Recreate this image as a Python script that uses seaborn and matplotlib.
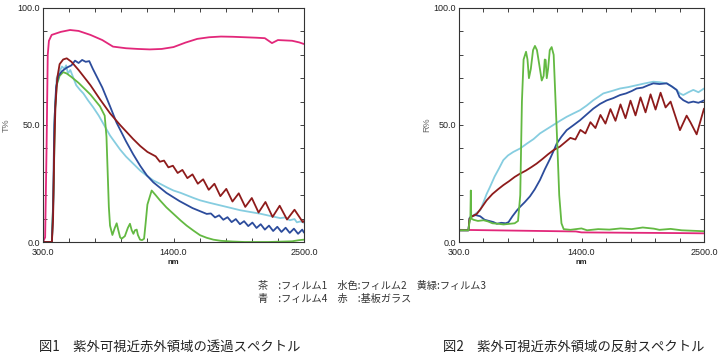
import numpy as np
import matplotlib
matplotlib.use("Agg")
import matplotlib.pyplot as plt
import seaborn as sns
from matplotlib.ticker import MultipleLocator, FixedLocator

# ---- Fig.1 transmission (T%) ----
t_glass_nm = [300, 318, 330, 340, 350, 373, 450, 528, 600, 700, 800, 890, 1000, 1100, 1200, 1300,
              1400, 1500, 1600, 1700, 1800, 1900, 2000, 2100, 2170, 2230, 2280, 2400, 2460, 2500]
t_glass = [0, 2, 40, 80, 86, 88.5, 89.8, 90.6, 90.2, 88.5, 86.3, 83.5, 82.8, 82.5, 82.3, 82.5,
           83.3, 85.2, 86.8, 87.5, 87.8, 87.7, 87.5, 87.3, 87.1, 85.0, 86.3, 86.0, 85.3, 84.6]

t_film1_nm = [300, 375, 385, 395, 405, 420, 440, 470, 500, 540, 600, 700, 780, 865, 950, 1060, 1120,
              1180, 1250, 1285, 1320, 1357, 1395, 1435, 1475, 1517, 1560, 1605, 1650, 1697, 1745,
              1795, 1845, 1897, 1950, 2005, 2060, 2117, 2175, 2235, 2295, 2357, 2420, 2490, 2500]
t_film1 = [0, 0, 10, 40, 58, 70, 76, 78, 78.5, 77, 73.5, 67, 61, 55, 50, 44, 41,
           38.5, 36.6, 34.3, 34.8, 31.9, 32.6, 29.5, 30.8, 27.3, 28.9, 24.9, 26.8, 22.3, 24.9,
           19.6, 22.7, 17.3, 20.8, 15.0, 18.8, 12.6, 17.1, 10.7, 15.5, 9.6, 13.8, 8.5, 9.0]

t_film2_nm = [300, 375, 390, 400, 415, 440, 460, 480, 495, 510, 530, 553, 580, 612, 640, 680, 724,
              770, 809, 865, 950, 1000, 1060, 1120, 1175, 1230, 1290, 1350, 1400, 1460, 1510, 1570,
              1625, 1700, 1790, 1880, 1960, 2050, 2130, 2210, 2300, 2340, 2380, 2420, 2440, 2470, 2500]
t_film2 = [0, 0, 20, 55, 70, 73, 75, 74, 75.5, 72, 73.5, 70.5, 67, 65, 63.5, 60.5, 57.5,
           54, 50.5, 45.5, 39.5, 36.5, 33.5, 30.5, 28.3, 26.3, 24.8, 23.2, 22, 21, 20, 18.8,
           17.8, 16.8, 15.7, 14.6, 13.6, 12.8, 12.1, 11.2, 10.2, 10.5, 9.3, 9.8, 8.4, 8.8, 8.2]

t_film3_nm = [300, 375, 390, 400, 415, 440, 470, 500, 540, 600, 640, 700, 780, 820, 835, 845, 855,
              865, 885, 905, 921, 935, 950, 963, 990, 1015, 1033, 1048, 1062, 1075, 1090, 1100,
              1118, 1135, 1152, 1165, 1180, 1216, 1250, 1286, 1340, 1400, 1460, 1511, 1570, 1624,
              1680, 1736, 1800, 1900, 2000, 2200, 2400, 2460, 2500]
t_film3 = [0, 0, 25, 55, 67, 71, 72.6, 72, 70.5, 68, 66, 63, 58, 54, 45, 30, 15,
           7, 3, 6, 8, 5, 2, 1.4, 2.5, 6, 7.8, 5, 3.5, 5, 5.3, 3,
           1, 0.8, 1.4, 8, 16, 22, 20, 17.8, 14.8, 12, 9.2, 7, 4.8, 2.9,
           1.8, 1, 0.5, 0.2, 0, 0, 0.3, 0.8, 1]

t_film4_nm = [300, 375, 385, 395, 410, 430, 460, 500, 540, 570, 600, 630, 660, 690, 720, 760, 800,
              865, 920, 1000, 1060, 1120, 1175, 1230, 1340, 1450, 1560, 1680, 1715, 1750, 1785,
              1820, 1855, 1890, 1925, 1960, 1995, 2030, 2065, 2100, 2135, 2170, 2205, 2240, 2275,
              2310, 2345, 2380, 2415, 2450, 2485, 2500]
t_film4 = [0, 0, 15, 50, 66, 71, 73, 74.5, 75.5, 77.5, 76.5, 77.8, 77, 77.3, 74, 70, 66,
           58, 51, 43, 37.5, 32.5, 28.5, 25.5, 21, 17.5, 14.5, 12, 12.2, 10.5, 11.4,
           9.5, 10.6, 8.5, 9.8, 7.6, 8.9, 6.8, 8.3, 6.0, 7.6, 5.3, 7.0, 4.7, 6.5,
           4.3, 6.1, 3.9, 5.7, 3.5, 5.3, 4.0]

# ---- Fig.2 reflection (R%) ----
r_glass_nm = [300, 600, 900, 1200, 1350, 1400, 1700, 2000, 2300, 2500]
r_glass = [5.2, 5.0, 4.8, 4.6, 4.5, 4.1, 4.0, 3.9, 3.8, 3.7]

r_film1_nm = [300, 385, 395, 420, 460, 500, 548, 600, 650, 698, 750, 800, 848, 900, 950, 997, 1050,
              1100, 1147, 1207, 1300, 1345, 1390, 1435, 1480, 1525, 1570, 1615, 1660, 1705, 1750,
              1795, 1840, 1885, 1930, 1975, 2020, 2065, 2110, 2155, 2200, 2284, 2344, 2380, 2434,
              2470, 2500]
r_film1 = [5, 5, 10, 11, 12, 14.5, 17.8, 20.5, 22.5, 24.3, 26, 27.8, 29.2, 30.5, 32, 33.5, 35.5,
           37.5, 39.2, 40.8, 44.5, 43.8, 47.9, 46.4, 51.2, 48.7, 54.3, 50.6, 56.8, 51.8, 58.8,
           52.9, 60.4, 54.1, 61.8, 55.4, 63.1, 56.6, 63.8, 57.5, 60, 47.8, 54, 51, 46,
           52, 57]

r_film2_nm = [300, 385, 395, 420, 460, 490, 520, 548, 578, 620, 660, 698, 740, 788, 850, 908, 970,
              1027, 1090, 1147, 1207, 1267, 1330, 1386, 1446, 1506, 1550, 1596, 1670, 1746, 1820,
              1895, 1970, 2045, 2100, 2165, 2210, 2254, 2284, 2314, 2360, 2404, 2450, 2500]
r_film2 = [5, 5, 10.5, 11, 12.5, 13.5, 17, 20.5, 23.5, 28, 31.5, 35, 37, 38.5, 40, 42, 44,
           46.4, 48.3, 50, 51.8, 53.5, 55, 56.3, 58.3, 60.6, 62, 63.5, 64.5, 65.6, 66.2,
           67, 67.8, 68.5, 68.3, 67.8, 66.5, 65, 63.5, 62.8, 64, 65, 64, 65.6]

r_film3_nm = [300, 385, 395, 402, 406, 410, 430, 470, 520, 560, 600, 650, 700, 760, 800, 830, 850,
              865, 880, 902, 915, 928, 945, 965, 982, 1000, 1020, 1043, 1060, 1070, 1078, 1088,
              1100, 1115, 1132, 1150, 1162, 1180, 1200, 1220, 1240, 1300, 1400, 1450, 1550, 1650,
              1750, 1850, 1950, 2050, 2100, 2200, 2300, 2400, 2500]
r_film3 = [5, 5, 9, 10, 22, 10, 9.5, 9, 9.3, 8.8, 8, 7.8, 7.5, 7.8, 8, 9, 20,
           60, 78, 81.3, 78, 70, 74, 82, 83.8, 82, 76, 69, 71, 78, 77.8, 70,
           74, 82, 83.3, 80, 66, 45, 20, 8, 5.5, 5.2, 5.8, 5, 5.5, 5.3,
           5.8, 5.5, 6.2, 5.7, 5.2, 5.6, 5, 4.8, 4.6]

r_film4_nm = [300, 385, 395, 410, 450, 490, 530, 570, 610, 640, 680, 720, 745, 780, 820, 848, 890,
              937, 980, 1027, 1070, 1117, 1150, 1177, 1220, 1267, 1330, 1386, 1446, 1506, 1566,
              1626, 1686, 1746, 1800, 1850, 1895, 1950, 2000, 2045, 2100, 2165, 2210, 2254, 2280,
              2314, 2360, 2404, 2450, 2500]
r_film4 = [5, 5, 10, 11, 11.5, 11, 9.5, 9, 8.5, 7.8, 8.2, 8, 8.5, 11, 13.5, 15, 17,
           19.5, 22.5, 26.5, 31, 35.5, 39, 42, 45, 47.8, 50, 52, 54.5, 57, 59,
           60.5, 61.5, 62.8, 63.5, 64.5, 65.6, 66, 67, 67.8, 67.5, 67.8, 66.5, 65, 62,
           60.6, 59.5, 60, 59.5, 60.5]

# colours: 茶 / 水色 / 黄緑 / 青 / 赤
C_FILM1 = "#8e1b1b"
C_FILM2 = "#86cde0"
C_FILM3 = "#63b942"
C_FILM4 = "#2c4c9c"
C_GLASS = "#e2277a"

sns.set_style("ticks")
plt.rcParams["font.family"] = ["Liberation Sans", "DejaVu Sans"]
JP = ["Noto Sans CJK JP", "DejaVu Sans"]

fig = plt.figure(figsize=(7.2, 3.59), dpi=100)
ax1 = fig.add_axes([43 / 720, 117 / 359, 261 / 720, 234 / 359])
ax2 = fig.add_axes([459 / 720, 117 / 359, 245 / 720, 234 / 359])

series_t = [(t_glass_nm, t_glass, C_GLASS), (t_film2_nm, t_film2, C_FILM2),
            (t_film3_nm, t_film3, C_FILM3), (t_film4_nm, t_film4, C_FILM4),
            (t_film1_nm, t_film1, C_FILM1)]
series_r = [(r_glass_nm, r_glass, C_GLASS), (r_film2_nm, r_film2, C_FILM2),
            (r_film4_nm, r_film4, C_FILM4), (r_film1_nm, r_film1, C_FILM1),
            (r_film3_nm, r_film3, C_FILM3)]

for ax, series, ylab, ylab_x in [(ax1, series_t, "T%", -0.125), (ax2, series_r, "R%", -0.115)]:
    for nm, vals, c in series:
        sns.lineplot(x=nm, y=vals, ax=ax, color=c, lw=1.3, estimator=None, sort=False)
    ax.set_xlim(300, 2500)
    ax.set_ylim(0, 100)
    ax.xaxis.set_major_locator(FixedLocator([300, 1400, 2500]))
    ax.xaxis.set_minor_locator(FixedLocator(np.arange(300, 2501, 220)))
    ax.yaxis.set_minor_locator(MultipleLocator(10))
    ax.set_xticklabels(["300.0", "1400.0", "2500.0"])
    ax.set_yticks([0, 50, 100])
    ax.set_yticklabels(["0.0", "50.0", "100.0"])
    ax.tick_params(which="both", direction="in", top=True, right=True, colors="#222222",
                   labelsize=6.5, width=0.6, length=3)
    ax.tick_params(axis="x", pad=4)
    ax.tick_params(axis="y", pad=2)
    for sp in ax.spines.values():
        sp.set_color("#333333")
        sp.set_linewidth(0.8)
    ax.set_xlabel("nm", fontsize=5.5, fontweight="bold", labelpad=1.5, color="#222222")
    ax.set_ylabel(ylab, fontsize=6.5, color="#666666")
    ax.yaxis.set_label_coords(ylab_x, 0.5)

fig.text(258 / 720, 1 - 286 / 359, "茶　:フィルム1　水色:フィルム2　黄緑:フィルム3",
         family=JP, fontsize=7.3, color="#333333", va="center")
fig.text(258 / 720, 1 - 299 / 359, "青　:フィルム4　赤　:基板ガラス",
         family=JP, fontsize=7.3, color="#333333", va="center")
fig.text(39 / 720, 1 - 347 / 359, "図1　紫外可視近赤外領域の透過スペクトル",
         family=JP, fontsize=9.6, color="#222222", va="center")
fig.text(443 / 720, 1 - 347 / 359, "図2　紫外可視近赤外領域の反射スペクトル",
         family=JP, fontsize=9.6, color="#222222", va="center")

fig.savefig("out.png", dpi=100)
